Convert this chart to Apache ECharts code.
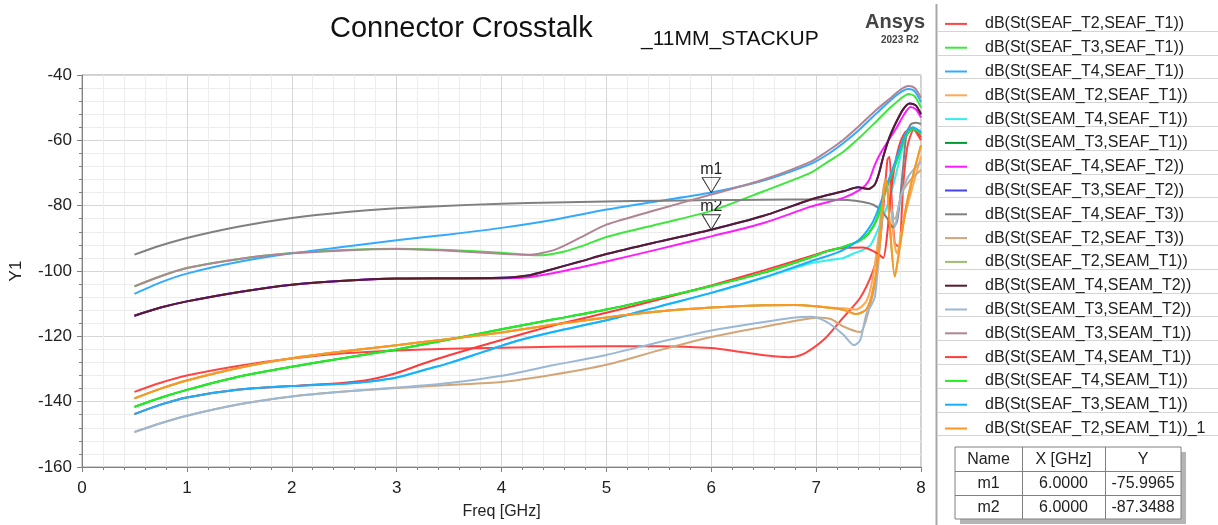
<!DOCTYPE html>
<html><head><meta charset="utf-8">
<script src="https://cdn.jsdelivr.net/npm/echarts@6/dist/echarts.min.js"></script>
<style>html,body{margin:0;padding:0;background:#fff}#c{width:1218px;height:525px}</style>
</head><body><div id="c"></div>
<script>
// ---------- data ----------
const xTicks = [0, 1, 2, 3, 4, 5, 6, 7, 8];
const yTicks = [-160, -140, -120, -100, -80, -60, -40];

const seriesNames = [
  'dB(St(SEAF_T2,SEAF_T1))', 'dB(St(SEAF_T3,SEAF_T1))', 'dB(St(SEAF_T4,SEAF_T1))',
  'dB(St(SEAM_T2,SEAF_T1))', 'dB(St(SEAM_T4,SEAF_T1))', 'dB(St(SEAM_T3,SEAF_T1))',
  'dB(St(SEAF_T4,SEAF_T2))', 'dB(St(SEAF_T3,SEAF_T2))', 'dB(St(SEAF_T4,SEAF_T3))',
  'dB(St(SEAF_T2,SEAF_T3))', 'dB(St(SEAF_T2,SEAM_T1))', 'dB(St(SEAM_T4,SEAM_T2))',
  'dB(St(SEAM_T3,SEAM_T2))', 'dB(St(SEAM_T3,SEAM_T1))', 'dB(St(SEAM_T4,SEAM_T1))',
  'dB(St(SEAF_T4,SEAM_T1))', 'dB(St(SEAF_T3,SEAM_T1))', 'dB(St(SEAF_T2,SEAM_T1))_1'
];
const seriesColors = [
  '#ff4444', '#3be83b', '#33aaff', '#ffa855', '#33eeee', '#009933',
  '#ff1aff', '#4444ee', '#808080', '#d2a679', '#9cbf6c', '#5a1a2a',
  '#9ab8d6', '#b08494', '#ff3a3a', '#22ee22', '#1aaeff', '#ff961f'
];

// [GHz, dB]
const sSEAF_T2_SEAF_T1 = [[0.5,-137],[0.75,-134.2],[1,-132],[1.5,-129],[2,-126.8],[2.5,-125.2],[3,-124.3],[3.5,-123.8],[4,-123.5],[4.5,-123.2],[5,-123],[5.5,-123],[6,-123.6],[6.3,-124.9],[6.53,-125.9],[6.74,-126.4],[6.85,-125.8],[6.97,-123.6],[7.1,-120.2],[7.26,-114.2],[7.42,-108.2],[7.54,-100.2],[7.6,-93],[7.64,-81],[7.68,-66],[7.7,-65],[7.72,-78],[7.75,-91.5],[7.79,-92.6],[7.83,-74],[7.87,-62],[7.93,-56.8],[8,-60]];
const sSEAF_T3_SEAF_T1 = [[0.5,-104.7],[0.75,-101.6],[1,-99.1],[1.5,-96.3],[2,-94.5],[2.5,-93.6],[3,-93.2],[3.5,-93.6],[4,-94.4],[4.35,-95.2],[4.6,-94],[4.8,-92],[5,-89.6],[5.5,-85.6],[6,-81.6],[6.5,-75.6],[6.95,-69.9],[7.1,-66.8],[7.26,-63.5],[7.42,-59],[7.58,-54],[7.7,-50.2],[7.8,-47.4],[7.88,-45.8],[7.94,-46.5],[8,-50]];
const sSEAF_T4_SEAF_T1 = [[0.5,-107],[0.75,-103.5],[1,-100.8],[1.5,-97.2],[2,-94.6],[2.5,-92.6],[3,-90.6],[3.5,-88.8],[4,-86.8],[4.5,-84.3],[5,-81.2],[5.5,-78.6],[6,-76],[6.5,-72.3],[6.95,-67.2],[7.1,-64.5],[7.26,-60.8],[7.42,-56.5],[7.58,-51.6],[7.7,-48],[7.8,-45.4],[7.88,-44.3],[7.94,-45],[8,-48.3]];
const sSEAM_T2_SEAF_T1 = [[0.5,-139],[0.75,-136],[1,-133.5],[1.5,-129.6],[2,-126.7],[2.5,-124.6],[3,-122.7],[3.5,-120.8],[4,-118.8],[4.5,-116.4],[5,-114.2],[5.5,-112.4],[6,-111.2],[6.5,-110.5],[6.8,-110.4],[7,-110.8],[7.14,-111.2],[7.26,-111.4],[7.38,-111.8],[7.48,-109.2],[7.54,-102.2],[7.6,-88],[7.65,-74],[7.69,-73],[7.74,-90.1],[7.77,-94.6],[7.83,-85],[7.93,-73],[8,-65]];
const sSEAM_T4_SEAF_T1 = [[0.5,-143.8],[0.75,-140.9],[1,-138.7],[1.5,-136.3],[2,-135.2],[2.5,-134.5],[2.75,-133.8],[3,-132.6],[3.33,-129.7],[3.5,-128.2],[3.84,-124.6],[4.16,-121.3],[4.5,-118.6],[5,-115.1],[5.5,-110.9],[6,-106.7],[6.5,-102],[6.95,-97.6],[7.1,-96.8],[7.26,-96],[7.36,-94.6],[7.45,-93.5],[7.52,-92],[7.6,-86.5],[7.7,-78],[7.78,-68],[7.86,-58.5],[7.92,-56.5],[8,-58]];
const sSEAM_T3_SEAF_T1 = [[0.5,-141.6],[0.75,-138.8],[1,-136.4],[1.5,-132.3],[2,-129.3],[2.5,-126.6],[3,-124],[3.5,-121],[4,-117.8],[4.5,-114.8],[5,-111.8],[5.5,-108.3],[6,-104.6],[6.5,-100.5],[6.95,-95.8],[7.1,-94],[7.26,-92.6],[7.42,-90.6],[7.5,-88.5],[7.58,-84.1],[7.64,-77.6],[7.7,-72],[7.77,-66.1],[7.83,-60.5],[7.88,-57.5],[7.93,-56.5],[8,-58]];
const sSEAF_T4_SEAF_T2 = [[0.5,-113.7],[0.75,-111.2],[1,-109.3],[1.5,-106.4],[2,-104.2],[2.5,-103],[3,-102.4],[3.5,-102.4],[4,-102.3],[4.25,-101.9],[4.5,-100.6],[4.75,-98.9],[5,-97.1],[5.5,-93.3],[6,-89.4],[6.5,-85.3],[6.95,-80.3],[7.26,-77.6],[7.42,-75.1],[7.5,-72.5],[7.56,-67.5],[7.62,-63.6],[7.7,-59.5],[7.77,-56],[7.84,-52],[7.9,-49.8],[7.95,-50.5],[8,-53]];
const sSEAF_T3_SEAF_T2 = [[0.5,-113.7],[0.75,-111.2],[1,-109.3],[1.5,-106.4],[2,-104.2],[2.5,-103],[3,-102.3],[3.5,-102.2],[4,-102.1],[4.25,-101.4],[4.5,-99.3],[4.75,-97.1],[5,-94.8],[5.5,-91],[6,-87.35],[6.5,-83.1],[6.95,-78.1],[7.1,-76.8],[7.26,-75.6],[7.4,-74.4],[7.5,-74.9],[7.56,-73.5],[7.6,-70],[7.64,-65],[7.7,-59],[7.77,-54],[7.83,-50.5],[7.89,-48.7],[7.95,-49.3],[8,-52]];
const sSEAF_T4_SEAF_T3 = [[0.5,-95],[0.75,-92.2],[1,-89.9],[1.5,-86.4],[2,-83.8],[2.5,-82],[3,-80.8],[3.5,-80],[4,-79.4],[4.5,-79],[5,-78.7],[5.5,-78.5],[6,-78.3],[6.5,-78.2],[7,-78.1],[7.3,-78.3],[7.45,-78.9],[7.55,-79.8],[7.62,-81.5],[7.68,-84],[7.73,-86.6],[7.77,-85],[7.8,-78],[7.83,-68],[7.86,-58.5],[7.9,-55.2],[7.95,-54.6],[8,-55]];
const sSEAF_T2_SEAF_T3 = [[0.5,-149.3],[0.75,-146.6],[1,-144.3],[1.5,-140.8],[2,-138.4],[2.5,-136.9],[3,-135.8],[3.5,-134.9],[4,-134],[4.5,-131.7],[5,-128.7],[5.5,-124.3],[6,-120.2],[6.5,-117.1],[6.8,-115.3],[7.02,-114.2],[7.14,-114.7],[7.26,-117],[7.42,-118.7],[7.5,-112.2],[7.57,-102.2],[7.63,-78.1],[7.66,-72.1],[7.71,-80.1],[7.75,-84.1],[7.82,-76.1],[7.9,-72.1],[8,-69.1]];
const sSEAF_T2_SEAM_T1 = [[0.5,-139],[0.75,-136],[1,-133.5],[1.5,-129.6],[2,-126.7],[2.5,-124.6],[3,-122.7],[3.5,-120.8],[4,-118.8],[4.5,-116.4],[5,-114.2],[5.5,-112.4],[6,-111.2],[6.5,-110.5],[6.8,-110.4],[7,-110.8],[7.14,-111.3],[7.26,-111.9],[7.38,-113.2],[7.48,-111.7],[7.54,-106.2],[7.6,-94.1],[7.64,-78],[7.67,-72],[7.7,-85],[7.75,-101.7],[7.8,-92.1],[7.86,-80.1],[7.93,-70],[8,-61.5]];
const sSEAM_T4_SEAM_T2 = [[0.5,-113.7],[0.75,-111.2],[1,-109.3],[1.5,-106.4],[2,-104.2],[2.5,-103],[3,-102.3],[3.5,-102.2],[4,-102.1],[4.25,-101.4],[4.5,-99.3],[4.75,-97.1],[5,-94.8],[5.5,-91],[6,-87.35],[6.5,-83.1],[6.95,-78.1],[7.1,-76.8],[7.26,-75.6],[7.4,-74.4],[7.5,-74.9],[7.56,-73.5],[7.6,-70],[7.64,-65],[7.7,-59],[7.77,-54],[7.83,-50.5],[7.89,-48.7],[7.95,-49.3],[8,-52]];
const sSEAM_T3_SEAM_T2 = [[0.5,-149.3],[0.75,-146.6],[1,-144.3],[1.5,-140.8],[2,-138.4],[2.5,-136.9],[3,-135.7],[3.5,-134.3],[4,-132.1],[4.5,-128.8],[5,-125.7],[5.5,-121.8],[6,-118.2],[6.5,-115.6],[6.8,-114.2],[6.95,-114],[7.1,-115.6],[7.26,-119.5],[7.36,-122.7],[7.42,-121.2],[7.48,-113],[7.52,-110.8],[7.56,-108],[7.6,-95],[7.63,-83.1],[7.66,-73],[7.7,-78.1],[7.75,-86.6],[7.8,-78.1],[7.88,-71],[8,-66.6]];
const sSEAM_T3_SEAM_T1 = [[0.5,-104.7],[0.75,-101.6],[1,-99.1],[1.5,-96.3],[2,-94.6],[2.5,-93.7],[3,-93.3],[3.5,-93.8],[4,-94.7],[4.25,-95],[4.5,-93.6],[4.75,-89.8],[5,-85.8],[5.5,-81.1],[6,-76.6],[6.5,-72],[6.95,-66.5],[7.1,-63.5],[7.26,-59.8],[7.42,-55.3],[7.58,-50.5],[7.7,-47.3],[7.8,-44.6],[7.88,-43.4],[7.94,-44],[8,-47]];
const sSEAM_T4_SEAM_T1 = [[0.5,-143.8],[0.75,-140.9],[1,-138.7],[1.5,-136.3],[2,-135.2],[2.5,-134.2],[2.75,-133.2],[3,-131.2],[3.25,-128.4],[3.5,-125.8],[4,-121.1],[4.5,-116.6],[5,-112.8],[5.5,-108.7],[6,-104.4],[6.5,-99.8],[7,-94.9],[7.15,-93.5],[7.3,-92.9],[7.45,-92.8],[7.55,-94],[7.6,-95],[7.64,-96],[7.68,-88],[7.72,-74],[7.78,-63],[7.85,-57.5],[7.92,-56.3],[8,-59]];
const sSEAF_T4_SEAM_T1 = [[0.5,-141.6],[0.75,-138.8],[1,-136.4],[1.5,-132.3],[2,-129.3],[2.5,-126.6],[3,-124],[3.5,-121],[4,-117.8],[4.5,-114.8],[5,-111.8],[5.5,-108.3],[6,-104.6],[6.5,-100.5],[6.95,-95.8],[7.1,-94],[7.26,-92.6],[7.42,-90.6],[7.5,-88.5],[7.58,-84.1],[7.64,-77.6],[7.7,-72],[7.77,-66.1],[7.83,-60.5],[7.88,-57.5],[7.93,-56.5],[8,-58]];
const sSEAF_T3_SEAM_T1 = [[0.5,-143.8],[0.75,-140.9],[1,-138.7],[1.5,-136.3],[2,-135.2],[2.5,-134.5],[2.75,-133.8],[3,-132.6],[3.33,-129.7],[3.5,-128.2],[3.84,-124.6],[4.16,-121.3],[4.5,-118.6],[5,-115.1],[5.5,-110.9],[6,-106.7],[6.5,-102],[6.95,-97],[7.1,-95.5],[7.26,-93.5],[7.42,-90.1],[7.52,-86.1],[7.58,-82.1],[7.67,-74.1],[7.77,-65.1],[7.86,-57.5],[7.92,-56],[8,-57.5]];
const sSEAF_T2_SEAM_T1_1 = [[0.5,-139],[0.75,-136],[1,-133.5],[1.5,-129.6],[2,-126.7],[2.5,-124.6],[3,-122.7],[3.5,-120.8],[4,-118.8],[4.5,-116.4],[5,-114.2],[5.5,-112.4],[6,-111.2],[6.5,-110.5],[6.8,-110.4],[7,-110.8],[7.14,-111.3],[7.26,-111.9],[7.38,-113.2],[7.48,-111.7],[7.54,-106.2],[7.6,-94.1],[7.64,-78],[7.67,-72],[7.7,-85],[7.75,-101.7],[7.8,-92.1],[7.86,-80.1],[7.93,-70],[8,-61.5]];

const seriesData = [
  sSEAF_T2_SEAF_T1, sSEAF_T3_SEAF_T1, sSEAF_T4_SEAF_T1, sSEAM_T2_SEAF_T1, sSEAM_T4_SEAF_T1, sSEAM_T3_SEAF_T1,
  sSEAF_T4_SEAF_T2, sSEAF_T3_SEAF_T2, sSEAF_T4_SEAF_T3, sSEAF_T2_SEAF_T3, sSEAF_T2_SEAM_T1, sSEAM_T4_SEAM_T2,
  sSEAM_T3_SEAM_T2, sSEAM_T3_SEAM_T1, sSEAM_T4_SEAM_T1, sSEAF_T4_SEAM_T1, sSEAF_T3_SEAM_T1, sSEAF_T2_SEAM_T1_1
];

// markers
const markerNames = ['m1', 'm2'];
const markerX = [6.0, 6.0];
const markerY = [-75.9965, -87.3488];
const markerSeries = [2, 11];

// ---------- chart ----------
const FONT = '"Liberation Sans", Arial, sans-serif';
const chart = echarts.init(document.getElementById('c'), null, {renderer: 'canvas'});

const series = seriesNames.map((name, i) => {
  const s = {
    name, type: 'line', data: seriesData[i], smooth: 0.25,
    showSymbol: false, symbol: 'none', color: seriesColors[i],
    lineStyle: {width: 2, color: seriesColors[i]}, z: 2 + i, silent: true
  };
  const mi = markerSeries.indexOf(i);
  if (mi >= 0) {
    s.markPoint = {
      symbol: 'path://M0,0L20,0L10,17Z', symbolSize: [18, 15], symbolOffset: [0, -7.5],
      itemStyle: {color: 'rgba(0,0,0,0)', borderColor: '#333', borderWidth: 1},
      label: {show: true, position: 'top', distance: 0, formatter: markerNames[mi],
              color: '#222', fontSize: 16, fontFamily: FONT},
      data: [{coord: [markerX[mi], markerY[mi]]}]
    };
  }
  return s;
});

const ROW_TOP = 7, ROW_H = 23.8;
const graphics = [];
graphics.push({type: 'text', left: 330, top: 14, style: {text: 'Connector Crosstalk', font: '29px ' + FONT, fill: '#111'}});
graphics.push({type: 'text', left: 641, top: 29, style: {text: '_11MM_STACKUP', font: '21px ' + FONT, fill: '#111'}});
graphics.push({type: 'text', left: 865, top: 12, style: {text: 'Ansys', font: 'bold 20px ' + FONT, fill: '#444'}});
graphics.push({type: 'text', left: 881, top: 35, style: {text: '2023 R2', font: 'bold 10px ' + FONT, fill: '#444'}});
// legend panel divider
graphics.push({type: 'line', shape: {x1: 936.5, y1: 4, x2: 936.5, y2: 525}, style: {stroke: '#a8a8a8', lineWidth: 2}});
for (let k = 1; k <= seriesNames.length; k++) {
  const y = Math.round(ROW_TOP + ROW_H * k) + 0.5;
  graphics.push({type: 'line', shape: {x1: 938, y1: y, x2: 1218, y2: y}, style: {stroke: '#d4d4d4', lineWidth: 1}});
}
// marker table
const TX = 955, TY = 447, TW = 226, RH = 24;
const colX = [TX, 1022, 1105, TX + TW];
graphics.push({type: 'rect', shape: {x: TX + 5, y: TY + 5, width: TW, height: RH * 3}, style: {fill: '#b4b4b4'}});
graphics.push({type: 'rect', shape: {x: TX, y: TY, width: TW, height: RH * 3}, style: {fill: '#fff', stroke: '#808080', lineWidth: 1}});
[1, 2].forEach(c => graphics.push({type: 'line', shape: {x1: colX[c] + 0.5, y1: TY, x2: colX[c] + 0.5, y2: TY + RH * 3}, style: {stroke: '#808080', lineWidth: 1}}));
[1, 2].forEach(r => graphics.push({type: 'line', shape: {x1: TX, y1: TY + RH * r + 0.5, x2: TX + TW, y2: TY + RH * r + 0.5}, style: {stroke: '#808080', lineWidth: 1}}));
const tableRows = [['Name', 'X [GHz]', 'Y']].concat(markerNames.map((n, i) => [n, markerX[i].toFixed(4), markerY[i].toFixed(4)]));
tableRows.forEach((row, r) => row.forEach((t, c) => {
  graphics.push({type: 'text', x: (colX[c] + colX[c + 1]) / 2, y: TY + RH * r + RH / 2 + 1,
    style: {text: t, font: '16px ' + FONT, fill: '#222', align: 'center', verticalAlign: 'middle'}});
}));

chart.setOption({
  animation: false,
  backgroundColor: '#fff',
  grid: {left: 79, top: 75, width: 842, height: 399, show: true, borderColor: '#a0a0a0', borderWidth: 1, backgroundColor: 'transparent'},
  legend: {
    orient: 'vertical', left: 940, top: ROW_TOP, itemWidth: 22, itemHeight: 2, itemGap: 0,
    icon: 'rect', selectedMode: false, data: seriesNames,
    textStyle: {fontFamily: FONT, fontSize: 16, color: '#222', lineHeight: ROW_H, padding: [0, 0, 0, 13]}
  },
  xAxis: {
    type: 'value', min: xTicks[0], max: xTicks[xTicks.length - 1], interval: 1,
    name: 'Freq [GHz]', nameLocation: 'middle', nameGap: 37,
    nameTextStyle: {fontFamily: FONT, fontSize: 16, color: '#222'},
    axisLine: {show: true, onZero: false, lineStyle: {color: '#808080'}},
    axisTick: {show: true, length: 5, lineStyle: {color: '#808080'}},
    minorTick: {show: true, splitNumber: 5, length: 3, lineStyle: {color: '#808080'}},
    axisLabel: {fontFamily: FONT, fontSize: 17, color: '#222', margin: 13},
    splitLine: {show: true, lineStyle: {color: '#d6d6d6'}},
    minorSplitLine: {show: true, lineStyle: {color: '#ededed'}}
  },
  yAxis: {
    type: 'value', min: yTicks[0], max: yTicks[yTicks.length - 1], interval: 20,
    name: 'Y1', nameLocation: 'middle', nameGap: 57, nameRotate: 90,
    nameTextStyle: {fontFamily: FONT, fontSize: 17, color: '#222'},
    axisLine: {show: true, onZero: false, lineStyle: {color: '#808080'}},
    axisTick: {show: true, length: 5, lineStyle: {color: '#808080'}},
    minorTick: {show: true, splitNumber: 5, length: 3, lineStyle: {color: '#808080'}},
    axisLabel: {fontFamily: FONT, fontSize: 17, color: '#222', margin: 10},
    splitLine: {show: true, lineStyle: {color: '#d6d6d6'}},
    minorSplitLine: {show: true, lineStyle: {color: '#ededed'}}
  },
  graphic: graphics,
  series
});
</script></body></html>
